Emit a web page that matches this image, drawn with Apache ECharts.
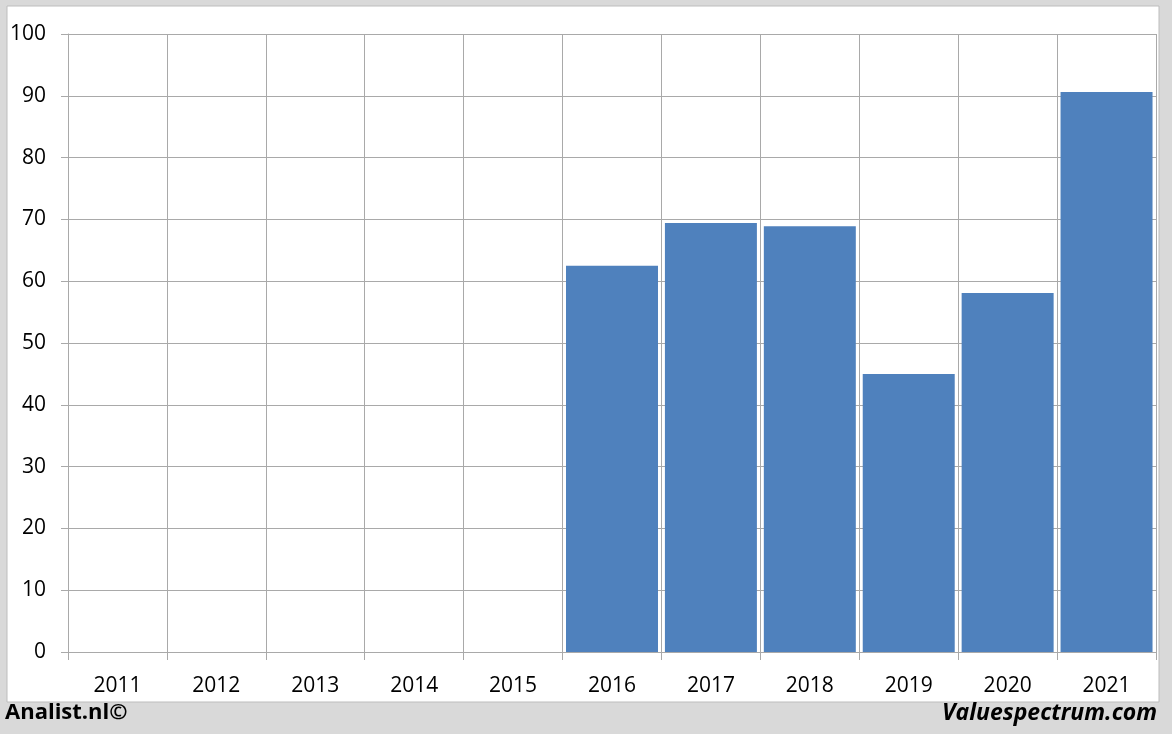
<!DOCTYPE html>
<html><head><meta charset="utf-8">
<script src="https://cdn.jsdelivr.net/npm/echarts@6/dist/echarts.min.js"></script>
<style>html,body{margin:0;padding:0;background:#d9d9d9;}#c{width:1172px;height:734px;}</style>
</head><body><div id="c"></div>
<script>
const categories = ['2011','2012','2013','2014','2015','2016','2017','2018','2019','2020','2021'];
const values = [null,null,null,null,null,62.5,69.4,68.9,45.0,58.1,90.6];
const yMin = 0, yMax = 100, yStep = 10;
const leftCredit = 'Analist.nl©';
const rightCredit = 'Valuespectrum.com';

const gridColor = '#a9a9a9';
const font = '"Open Sans", "Noto Sans", sans-serif';
const chart = echarts.init(document.getElementById('c'), null, {renderer:'canvas'});
chart.setOption({
  backgroundColor: '#d9d9d9',
  animation: false,
  graphic: [
    {type:'rect', z:-10, shape:{x:7,y:6,width:1152,height:696}, style:{fill:'#ffffff', stroke:'#bdbdbd', lineWidth:1}},
    {type:'text', left:5, top:702, style:{text:leftCredit, font:'bold 22px ' + font, fill:'#000'}},
    {type:'text', right:15, top:702, style:{text:rightCredit, font:'italic bold 23px ' + font, fill:'#000'}}
  ],
  grid: {left:68, right:16, top:34, bottom:82},
  xAxis: {
    type:'category', data:categories, boundaryGap:true,
    axisLine:{lineStyle:{color:gridColor}},
    axisTick:{show:true, length:8, alignWithLabel:false, lineStyle:{color:gridColor}},
    splitLine:{show:true, lineStyle:{color:gridColor, width:1}},
    axisLabel:{color:'#000', fontSize:21, fontFamily:font, margin:24}
  },
  yAxis: {
    type:'value', min:yMin, max:yMax, interval:yStep,
    axisLine:{show:true, lineStyle:{color:gridColor}},
    axisTick:{show:true, length:7, lineStyle:{color:gridColor}},
    splitLine:{show:true, lineStyle:{color:gridColor, width:1}},
    axisLabel:{color:'#000', fontSize:21, fontFamily:font, margin:22}
  },
  series: [{
    type:'bar', data:values, barCategoryGap:'7%',
    itemStyle:{color:'#4f81bd'}
  }]
});
</script></body></html>
